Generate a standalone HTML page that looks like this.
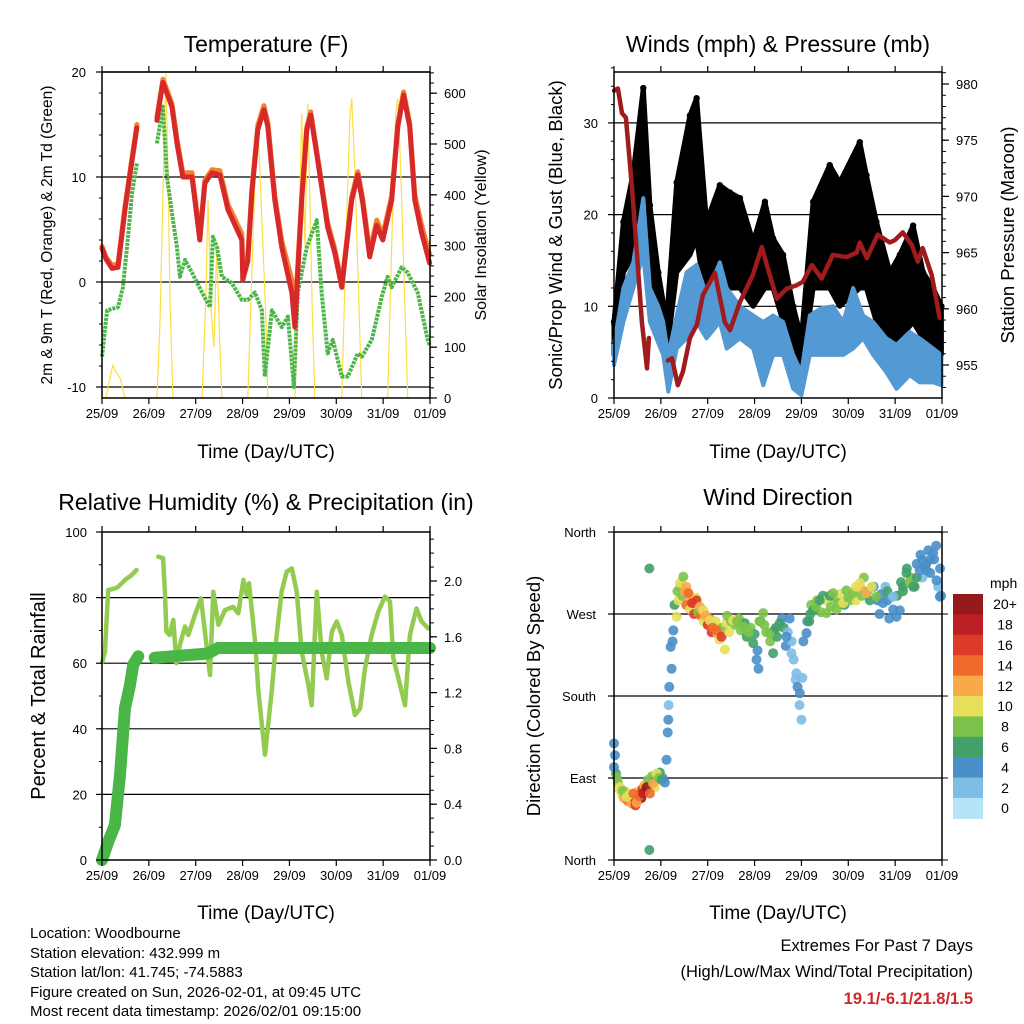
<!DOCTYPE html>
<html><head><meta charset="utf-8">
<style>
html,body{margin:0;padding:0;background:#fff;}
svg{display:block;font-family:"Liberation Sans",sans-serif;}
</style></head>
<body>
<svg id="fig" width="1024" height="1024" viewBox="0 0 1024 1024" xmlns="http://www.w3.org/2000/svg">
<rect x="0" y="0" width="1024" height="1024" fill="#fff"/>
<text x="266" y="52" font-size="23" text-anchor="middle">Temperature (F)</text>
<text x="778" y="52" font-size="23" text-anchor="middle">Winds (mph) &amp; Pressure (mb)</text>
<text x="266" y="510" font-size="23" text-anchor="middle">Relative Humidity (%) &amp; Precipitation (in)</text>
<text x="778" y="505" font-size="23" text-anchor="middle">Wind Direction</text>

<text transform="translate(52,235) rotate(-90)" font-size="15.5" text-anchor="middle">2m &amp; 9m T (Red, Orange) &amp; 2m Td (Green)</text>
<text transform="translate(486,235) rotate(-90)" font-size="16" text-anchor="middle">Solar Insolation (Yellow)</text>
<text transform="translate(562,235) rotate(-90)" font-size="18.5" text-anchor="middle">Sonic/Prop Wind &amp; Gust (Blue, Black)</text>
<text transform="translate(1014,235) rotate(-90)" font-size="18.5" text-anchor="middle">Station Pressure (Maroon)</text>
<text transform="translate(45,696) rotate(-90)" font-size="20" text-anchor="middle">Percent &amp; Total Rainfall</text>
<text transform="translate(540,696) rotate(-90)" font-size="18.5" text-anchor="middle">Direction (Colored By Speed)</text>

<text x="266" y="458" font-size="19" text-anchor="middle">Time (Day/UTC)</text>
<text x="778" y="458" font-size="19" text-anchor="middle">Time (Day/UTC)</text>
<text x="266" y="919" font-size="19" text-anchor="middle">Time (Day/UTC)</text>
<text x="778" y="919" font-size="19" text-anchor="middle">Time (Day/UTC)</text>

<g font-size="15">
<text x="30" y="938">Location: Woodbourne</text>
<text x="30" y="958">Station elevation: 432.999 m</text>
<text x="30" y="977">Station lat/lon: 41.745; -74.5883</text>
<text x="30" y="997">Figure created on Sun, 2026-02-01, at 09:45 UTC</text>
<text x="30" y="1016">Most recent data timestamp: 2026/02/01 09:15:00</text>
</g>
<text x="973" y="951" font-size="16.5" text-anchor="end">Extremes For Past 7 Days</text>
<text x="973" y="977" font-size="16.5" text-anchor="end">(High/Low/Max Wind/Total Precipitation)</text>
<text x="973" y="1004" font-size="16.5" font-weight="bold" fill="#cc2a2a" text-anchor="end">19.1/-6.1/21.8/1.5</text>
</svg>
<script>
// ---------- data ----------
const dayLabels = ["25/09","26/09","27/09","28/09","29/09","30/09","31/09","01/09"];
const tempHours = [0,2,5.1,8.2,11.8,15.4,17.9,22,28.1,31.2,35.8,38.4,41.4,46.1,50.1,52.7,56.3,60.4,64.5,71.6,72.1,74.7,76.8,79.8,82.9,84.9,88.5,92.1,97.2,98.8,102.3,104.9,106.9,110.5,115.6,119.2,122.8,127.9,131,133.6,137.1,140.7,143.8,148.4,151.5,154.5,157.6,160.2,163.7,167.8];
const tempRed = [3.2,2.2,1.3,1.4,6.9,11.6,14.7,null,15.4,19,16.7,13.2,10,10,4,9.4,10.4,10.2,6.9,4,0.2,2,8.5,14.5,16.4,14.8,7.8,3.3,-1,-4.3,7.8,14.5,15.9,11.6,5.2,2.8,-0.5,7.8,10.2,7.5,2.4,5.4,4,7.8,14.8,17.8,14.8,7.8,4.7,1.8];
const tempOrange = [3.4,2.4,1.6,1.7,7.2,11.9,15,null,15.7,19.3,17,13.6,10.4,10.4,4.4,9.7,10.7,10.6,7.4,4.6,1.0,2.6,8.9,14.9,16.8,15.2,8.2,3.9,0.2,-3.2,8.1,14.8,16.2,11.9,5.6,3.2,-0.2,8.1,10.5,7.9,2.8,5.9,4.5,8.2,15.1,18.1,15.1,8.3,5.4,2.6];
const tdHours = [0,2.6,8.2,10.7,12.8,15.4,17.9,22,28.1,31.2,33.3,35.8,38.4,39.9,42.5,46.1,51.2,55.3,56.8,58.9,61.4,66.5,71.6,74.7,78.3,81.9,83.4,87,92.1,95.2,98.3,100.3,104.9,110,112.5,115.6,118.2,122.8,125.9,131,133.1,138.2,143.3,146.3,148.4,153.5,156.6,161.7,166.8,167.8];
const tdGreen = [-7.1,-2.7,-2.4,-0.5,3.3,8.5,11.3,null,13.2,16.7,10,6.6,3.3,0.5,2.1,0.9,-1,-2.4,4.3,3.3,0.5,-0.1,-1.7,-1.7,-1,-2.7,-9,-2.7,-4.3,-3.3,-10,-1,3.3,5.9,-1,-6.8,-5.5,-9,-9,-6.8,-7.1,-5.5,-1.4,0.5,-0.5,1.4,0.9,-1,-5.5,-6];
const solarHours = [0,2,4.1,5.6,7.2,9.2,11.8,28.1,29.7,31.2,32.2,32.7,33.8,34.8,36.3,51.2,53.2,54.3,55.8,57.3,58.8,60.4,61.4,74.7,76.8,78.8,80.3,81.9,84,84.9,98.8,100.8,102.3,103.9,105.4,107.5,109,122.8,124.9,126.9,127.9,129.5,131.5,133,146.3,148.4,150.4,151.5,153,155,156.6,167.8];
const solarVals = [0,0,40,65,50,40,0,0,150,400,560,640,450,200,0,0,200,390,180,100,300,100,0,0,250,480,500,350,150,0,0,300,560,300,580,200,0,0,300,550,590,450,200,0,0,300,560,590,450,200,0,0];

const presHours = [0,2,4.1,6.1,9.2,11.8,14.3,16.9,17.9,20,27.6,29.7,32.7,35.3,38.9,42.5,45.5,51.7,56.8,59.4,64.5,71.1,75.7,78.8,83.4,88.5,93.6,96.7,101.3,106.4,112.1,119.2,124.3,125.9,129.5,135.1,141.2,143.8,147.9,152.5,155.6,158.1,162.7,166.8];
const presVals = [979.4,979.6,977.4,977,970.8,964.8,958.8,954.7,957.4,null,955.4,955.6,953.2,954.4,957.4,958.6,961.2,963.2,958.8,958.1,960.6,963,965.5,963.6,960.9,961.8,962.1,962.4,963.9,962.7,964.8,964.6,965,965.9,964.5,966.6,965.9,966.1,966.8,965.7,964.2,965.4,963,959.2];
const windHours = [0,4.8,9.9,15,18.4,22.7,25.2,27.8,32.1,37.2,42.3,47.4,54.2,57.7,64.5,71.3,76.4,81.5,86.6,91.8,96,100.3,106.3,112.2,117.4,122.5,127.6,132.7,139.5,144.7,151.5,156.6,163.5,167.7];
const windLo = [3.6,8.3,12,15.6,8.3,6,4.7,0.7,5.4,6.5,8.3,6.5,8.3,5.4,6.5,5.4,1.4,4.7,4.7,1,0.3,4.7,4.7,4.7,4.7,5.4,6.5,4.7,2.8,1,2.5,1.7,1.7,1.4];
const windHi = [5.8,12,14.8,21.8,12,10,8.3,4.7,9,13.7,14.5,11.2,14.8,12,10,9,8.3,9,8.3,4.7,2.8,9,9.8,10,8.3,12,9,8.3,6.5,5.8,7.2,6.5,5.4,4.7];
const gustHours = [0,4.8,9.9,15,18.4,22.7,26.9,32.1,38.9,42.3,47.4,54.2,59.4,64.5,71.3,77.3,81.5,86.6,91.8,96,102,110.5,115.6,125.9,129.3,134.4,141.3,146.4,153.2,158.3,163.5,167.7];
const gustLo = [4.7,13.7,15.6,19.2,12,8.3,4.7,13.7,15.6,17.4,10,13.7,12,12,10,12,12,8.3,4.7,2.8,12,12,10,12,12,8.3,5.4,6.5,8.3,6.5,5.4,4.7];
const gustHi = [8.3,19.2,24.6,33.8,21,13.7,8.3,23.5,30.8,32.7,19.2,23.2,22.4,21.8,17,21.4,17.4,15.6,10,6.5,21.4,25.4,23.5,27.9,24.3,19.2,13.7,15.6,18.8,13.7,12,10];

const rhHours = [0.2,1.5,3.2,6.6,8.3,11.8,15.2,17.7,22,28.8,31.3,32.2,33,34.7,36.5,38.1,39.9,42.5,44.2,47.6,50.7,52.7,55.3,57,59.6,63,67.2,69.8,72.4,74.1,75.3,78.4,80.1,83.5,86.9,89.5,92,94.6,97.2,99.7,102.3,105.7,107.4,110,112.5,115.1,117.7,120.2,122.8,126.2,129.6,132.2,134.7,138.1,141.5,144.9,147.5,149.2,151.8,155.2,157.7,161.1,163.7,167.1];
const rhVals = [60.5,63.5,82.3,82.8,83.3,85.4,86.9,88.4,null,92.5,92,81.8,69.6,68.6,73.2,60,65.6,71.2,68.6,74.7,79.8,69.6,56.4,81.8,71.7,76.2,77.2,75.2,85.4,80.8,84.4,66.6,51.4,32.1,51.4,68.6,81.8,87.9,88.9,81.8,63.5,53.3,47.2,81.8,63.5,55.4,69.6,72.7,68.6,54.3,44.2,46.2,58.4,68.6,75.7,80.3,78.8,61.5,55.4,47.2,68.6,76.7,72.7,70.6];
const precipHours = [0,3.2,6.6,9.2,11.8,14.3,16,18.6,22,27,54.3,59.4,168];
const precipVals = [0,0.13,0.25,0.61,1.09,1.25,1.4,1.46,null,1.45,1.48,1.52,1.52];

const dirHours = [0,0,1.4,3.1,4.5,6.5,8,9.9,11.6,13,15,16.7,18.4,20,21.8,23,24.4,26.1,26.9,27.8,28.3,29,30.4,32.1,33.8,35.5,37,38.1,40,42.3,44,45.7,47,49.1,50.5,52.5,55.1,56.8,59,61,63,66.2,69,71.3,73,74.5,76.4,79.8,81.5,83,84.9,88.3,90.9,93.4,95.2,96,98.6,100,102,103.5,105.4,108.8,110.5,112.2,115,117.4,120,122.5,124,125.9,129.3,132,134.4,137.8,140,142.9,144.7,146.4,148,149.8,151.5,153.2,155,156.6,158,159.1,160,162,163.5,165.2,166.9,18.1,18.1];
const dirVals = [128,102,91,80,76,69,72,73,63,70,73,80,73,84,95,90,88,85,110,154,190,234,252,267,304,311,300,293,282,285,278,274,268,263,255,252,245,231,250,263,262,256,250,238,220,262,271,249,227,255,260,245,227,205,183,154,249,262,274,278,285,271,290,293,282,282,288,293,300,304,293,300,289,282,295,289,267,274,300,315,305,300,310,318,329,322,318,330,337,307,289,320,11];
const dirSpeeds = [4,4,7,9,8,9,10,13,12,14,18,20,14,11,9,8,6,4,3,3,3,3,4,9,9,7,12,13,15,15,12,10,11,10,13,14,15,10,9,9,8,8,7,5,4,8,8,7,6,6,6,4,2,2,3,1,4,5,6,7,5,8,6,7,7,9,8,8,9,10,11,9,8,4,5,2,4,4,5,6,7,6,5,4,3,4,3,3,3,4,3,6,6];
const dirHoursB = [0.5,1,2,2.5,4,5,6,7,7.5,8.5,9,10.5,11,12,12.5,13.5,14,14.5,15.5,16,17,17.5,19,19.5,20.5,21,22,23.5,25,27.5,28,29.5,30,31,32.5,33,34,35,36,37,38.5,39,40.5,41,42,43,44.5,45,46,46.5,48,49,50,51,52,53,54,55.5,57.5,58,60,62,64,65,67,68,70,72,73.5,74,75,77,78,80,82,83.5,86,87,88,89,90,91,92,93,94,95,96.5,97,99,100.5,101,103,104,106,107,109,111,113,114,116,118,119,121,123,124,126,127,128,130,131,133,135,136,137,139,140,141,143,145,147,148,150,152,154,155,157,158,160,161,162,164,165,166,167,167.5];
const dirValsB = [115,95,85,78,72,68,75,65,70,66,62,68,60,75,66,72,68,78,82,76,85,88,80,92,86,80,92,96,90,140,170,210,240,280,295,285,300,290,295,280,290,275,282,270,288,272,268,275,262,270,258,265,250,258,262,248,242,255,260,268,262,258,265,252,260,245,255,248,230,210,262,258,250,240,252,245,265,255,235,250,265,240,220,198,190,170,200,240,262,270,280,275,285,272,290,285,278,288,275,292,280,296,285,295,285,300,290,310,295,285,300,285,270,292,300,285,265,275,290,305,295,320,310,300,325,335,310,325,340,315,330,345,300,320,290];
const dirSpeedsB = [4,6,8,10,10,12,9,13,11,14,12,16,15,10,17,19,20,16,12,15,10,8,9,7,6,10,7,5,4,3,2,3,3,6,8,10,7,8,12,14,11,9,13,15,10,8,14,11,9,12,15,13,16,11,9,12,10,8,9,7,8,7,8,8,6,5,7,6,4,4,6,8,7,7,6,5,4,5,3,2,3,2,2,2,3,2,2,3,4,6,7,6,7,8,5,9,8,7,8,9,6,7,8,10,9,11,8,7,8,6,4,3,4,4,2,3,4,3,6,6,5,6,7,5,4,3,2,3,4,3,4,3,2,4,3];

const cbLabels = ["0","2","4","6","8","10","12","14","16","18","20+"];
const cbColors = ["#b5e3f8","#7dbde6","#4a8fc8","#42a06a","#7cc24a","#e6df5a","#f8aa48","#ef6a2d","#dd3a28","#bc1f24","#951a1c"];

// ---------- helpers ----------
const NS = "http://www.w3.org/2000/svg";
const svg = document.getElementById("fig");
function mk(tag, attrs, parent){
  const e = document.createElementNS(NS, tag);
  for (const k in attrs) e.setAttribute(k, attrs[k]);
  (parent || svg).appendChild(e);
  return e;
}
function pathD(xs, ys, fx, fy){
  let d = "", pen = false;
  for (let i=0;i<xs.length;i++){
    if (ys[i]===null){ pen=false; continue; }
    d += (pen?"L":"M") + fx(xs[i]).toFixed(1) + "," + fy(ys[i]).toFixed(1);
    pen = true;
  }
  return d;
}
function speedColor(s){ return cbColors[Math.min(10, Math.max(0, Math.round(s/2)))]; }

const P = {
  t:{x0:102,x1:430,y0:72,y1:398},
  w:{x0:614,x1:942,y0:72,y1:398},
  r:{x0:102,x1:430,y0:532,y1:860},
  d:{x0:614,x1:942,y0:532,y1:860}
};
function xs(p){ return h => p.x0 + h/168*(p.x1-p.x0); }
const tempY = v => 282 - 10.5*v;
const solarY = v => 398 - 0.508*v;
const windY = v => 398 - 9.17*v;
const presY = p => 365 - (p-955)*11.24;
const rhY = v => 860 - 3.28*v;
const prY = v => 860 - 139.5*v;
const dirY = d => 860 - 0.911*d;

function frame(p, key){
  const g = mk("g", {});
  
  
  mk("rect", {x:p.x0, y:p.y0, width:p.x1-p.x0, height:p.y1-p.y0, fill:"none", stroke:"#000", "stroke-width":1.5}, g);
  const fx = xs(p);
  for (let i=0;i<=7;i++){
    const x = fx(i*24);
    mk("line",{x1:x,y1:p.y1,x2:x,y2:p.y1+6,stroke:"#000","stroke-width":1.2},g);
    mk("line",{x1:x,y1:p.y0,x2:x,y2:p.y0-6,stroke:"#000","stroke-width":1.2},g);
    const t = mk("text",{x:x,y:p.y1+20,"font-size":13,"text-anchor":"middle"},g);
    
    
    t.textContent = dayLabels[i];
  }
  return g;
}
function grid(p, ys){
  ys.forEach(y=>{ mk("line",{x1:p.x0,y1:y,x2:p.x1,y2:y,stroke:"#000","stroke-width":1.2}); });
}
function leftTicks(p, vals, fy, labels, key, anchorX){
  vals.forEach((v,i)=>{
    const y = fy(v);
    mk("line",{x1:p.x0-6,y1:y,x2:p.x0,y2:y,stroke:"#000","stroke-width":1.2});
    const t = mk("text",{x:anchorX,y:y+5,"font-size":13,"text-anchor":"end"});
    
    
    t.textContent = labels[i];
  });
}
function rightTicks(p, vals, fy, labels, key, minor){
  minor.forEach(v=>{ const y=fy(v); mk("line",{x1:p.x1,y1:y,x2:p.x1+4,y2:y,stroke:"#000","stroke-width":1}); });
  vals.forEach((v,i)=>{
    const y = fy(v);
    mk("line",{x1:p.x1,y1:y,x2:p.x1+7,y2:y,stroke:"#000","stroke-width":1.2});
    const t = mk("text",{x:p.x1+14,y:y+5,"font-size":13});
    
    
    t.textContent = labels[i];
  });
}

// ---------- Panel 1 ----------
(function(){
  const p = P.t, fx = xs(p);
  const clip = mk("clipPath",{id:"c1"}); mk("rect",{x:p.x0,y:p.y0,width:p.x1-p.x0,height:p.y1-p.y0},clip);
  grid(p,[tempY(20),tempY(10),tempY(0),tempY(-10)]);
  const sol = mk("path",{d:pathD(solarHours,solarVals,fx,solarY),fill:"none",stroke:"#ffdd44","stroke-width":1.2,"clip-path":"url(#c1)"});
  
  
  const td = mk("path",{d:pathD(tdHours,tdGreen,fx,tempY),fill:"none",stroke:"#4cb547","stroke-width":4,"stroke-dasharray":"3 1","stroke-linejoin":"round"});
  
  
  const to = mk("path",{d:pathD(tempHours,tempOrange,fx,tempY),fill:"none",stroke:"#f28230","stroke-width":5,"stroke-linejoin":"round","stroke-linecap":"round"});
  
  
  const tr = mk("path",{d:pathD(tempHours,tempRed,fx,tempY),fill:"none",stroke:"#d7292a","stroke-width":5,"stroke-linejoin":"round","stroke-linecap":"round"});
  
  
  frame(p,"temperature");
  for(let v=-10;v<=20;v+=2){const y=tempY(v); mk("line",{x1:p.x0-3,y1:y,x2:p.x0,y2:y,stroke:"#000"});}
  leftTicks(p,[20,10,0,-10],tempY,["20","10","0","-10"],"temperature",86);
  const sm=[]; for(let v=0;v<=640;v+=20) sm.push(v);
  rightTicks(p,[0,100,200,300,400,500,600],solarY,["0","100","200","300","400","500","600"],"solar",sm);
})();

// ---------- Panel 2 ----------
(function(){
  const p = P.w, fx = xs(p);
  grid(p,[windY(10),windY(20),windY(30)]);
  let d = pathD(gustHours,gustHi,fx,windY);
  for (let i=gustHours.length-1;i>=0;i--) d += "L"+fx(gustHours[i]).toFixed(1)+","+windY(gustLo[i]).toFixed(1);
  const ga = mk("path",{d:d+"Z",fill:"#000",stroke:"#000","stroke-width":5,"stroke-linejoin":"round"});
  
  
  gustHours.forEach((h,i)=>{
    const c = mk("circle",{cx:fx(h),cy:windY(gustHi[i]),r:3.2,fill:"#000"});
    
    
  });
  let wd = pathD(windHours,windHi,fx,windY);
  for (let i=windHours.length-1;i>=0;i--) wd += "L"+fx(windHours[i]).toFixed(1)+","+windY(windLo[i]).toFixed(1);
  const wa = mk("path",{d:wd+"Z",fill:"#5399d3",stroke:"#5399d3","stroke-width":4,"stroke-linejoin":"round"});
  
  
  const pr = mk("path",{d:pathD(presHours,presVals,fx,presY),fill:"none",stroke:"#a01b1d","stroke-width":4.5,"stroke-linejoin":"round","stroke-linecap":"round"});
  
  
  frame(p,"winds");
  for(let v=0;v<=36;v+=2){const y=windY(v); mk("line",{x1:p.x0-3,y1:y,x2:p.x0,y2:y,stroke:"#000"});}
  leftTicks(p,[0,10,20,30],windY,["0","10","20","30"],"wind",598);
  const pm=[]; for(let v=953;v<=981;v+=1) pm.push(v);
  rightTicks(p,[955,960,965,970,975,980],presY,["955","960","965","970","975","980"],"pressure",pm);
})();

// ---------- Panel 3 ----------
(function(){
  const p = P.r, fx = xs(p);
  grid(p,[rhY(20),rhY(40),rhY(60),rhY(80)]);
  const rh = mk("path",{d:pathD(rhHours,rhVals,fx,rhY),fill:"none",stroke:"#92cb50","stroke-width":4.5,"stroke-linejoin":"round","stroke-linecap":"round"});
  
  
  const pc = mk("path",{d:pathD(precipHours,precipVals,fx,prY),fill:"none",stroke:"#4ab648","stroke-width":12,"stroke-linejoin":"round","stroke-linecap":"round"});
  
  
  frame(p,"humidity");
  for(let v=0;v<=100;v+=10){const y=rhY(v); mk("line",{x1:p.x0-3,y1:y,x2:p.x0,y2:y,stroke:"#000"});}
  leftTicks(p,[0,20,40,60,80,100],rhY,["0","20","40","60","80","100"],"humidity",87);
  const qm=[]; for(let v=0;v<=2.35;v+=0.1) qm.push(v);
  rightTicks(p,[0,0.4,0.8,1.2,1.6,2.0],prY,["0.0","0.4","0.8","1.2","1.6","2.0"],"precip",qm);
})();

// ---------- Panel 4 ----------
(function(){
  const p = P.d, fx = xs(p);
  grid(p,[dirY(270),dirY(180),dirY(90)]);
  function dots(H,D,S){
    H.forEach((h,i)=>{
      const c = mk("circle",{cx:fx(h),cy:dirY(D[i]),r:5,fill:speedColor(S[i]),"fill-opacity":0.9});
      
      
    });
  }
  dots(dirHoursB,dirValsB,dirSpeedsB);
  dots(dirHours,dirVals,dirSpeeds);
  frame(p,"direction");
  leftTicks(p,[0,90,180,270,360],dirY,["North","East","South","West","North"],"direction",596);
  [0,90,180,270,360].forEach(v=>{const y=dirY(v); mk("line",{x1:p.x1,y1:y,x2:p.x1+6,y2:y,stroke:"#000"});});
  const cb = mk("g",{});
  
  
  const top=594, h=20.4;
  const u = mk("text",{x:990,y:588,"font-size":14},cb); u.textContent="mph";
  for (let i=0;i<11;i++){
    const k = 10-i, y = top + i*h;
    const r = mk("rect",{x:953,y:y,width:30,height:h+0.5,fill:cbColors[k]},cb);
    
    
    const t = mk("text",{x:1005,y:y+h/2+5,"font-size":14,"text-anchor":"middle"},cb);
    
    
    t.textContent = cbLabels[k];
  }
})();
</script>
</body></html>
